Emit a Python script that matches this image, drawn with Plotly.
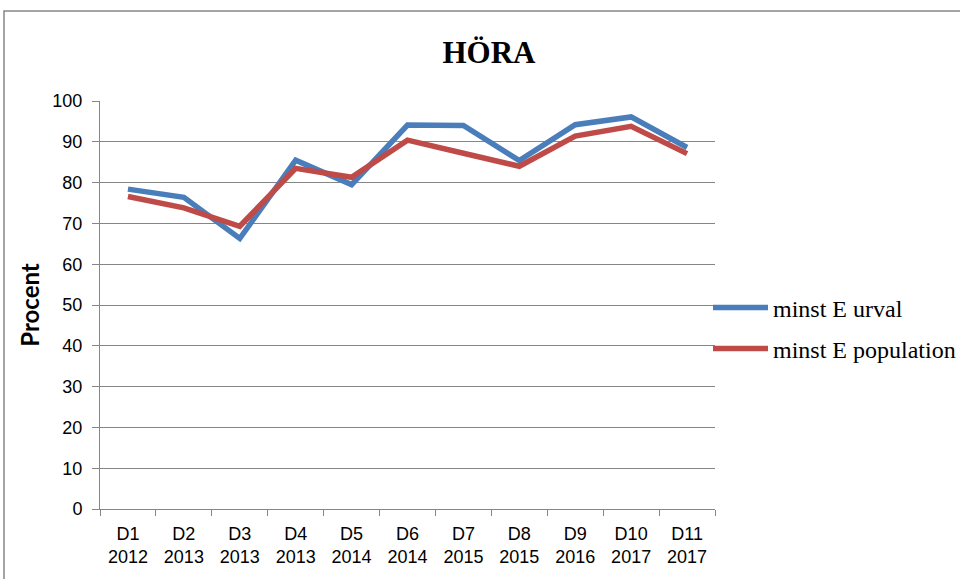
import plotly.graph_objects as go

categories = ["D1<br>2012", "D2<br>2013", "D3<br>2013", "D4<br>2013", "D5<br>2014", "D6<br>2014",
              "D7<br>2015", "D8<br>2015", "D9<br>2016", "D10<br>2017", "D11<br>2017"]
urval = [78.4, 76.4, 66.3, 85.5, 79.5, 94.1, 94.0, 85.4, 94.2, 96.1, 88.6]
population = [76.6, 73.8, 69.3, 83.5, 81.3, 90.4, 87.2, 84.0, 91.4, 93.8, 87.1]
yticks = [0, 10, 20, 30, 40, 50, 60, 70, 80, 90, 100]

W, H = 960, 579
L, R, T, B = 100, 715, 101, 509

fig = go.Figure()
fig.add_trace(go.Scatter(x=categories, y=urval, mode="lines", name="minst E urval",
                         line=dict(color="#4A7EBB", width=5.5), legend="legend"))
fig.add_trace(go.Scatter(x=categories, y=population, mode="lines", name="minst E population",
                         line=dict(color="#BE4B48", width=5.5), legend="legend2"))

def px(x):
    return (x - L) / (R - L)

def py(y):
    return (B - y) / (B - T)

legfont = dict(family="Liberation Serif", size=24, color="black")

fig.update_layout(
    width=W, height=H,
    margin=dict(l=L, r=W - R, t=T, b=H - B, autoexpand=False),
    paper_bgcolor="white", plot_bgcolor="white",
    title=dict(text="<b>HÖRA</b>", x=489 / W, xanchor="center",
               y=1 - 52 / H, yanchor="middle",
               font=dict(family="Liberation Serif", size=31, color="black")),
    showlegend=True,
    legend=dict(x=px(708), xanchor="left", y=py(308), yanchor="middle",
                font=legfont, bgcolor="rgba(0,0,0,0)", itemwidth=55),
    legend2=dict(x=px(708), xanchor="left", y=py(349), yanchor="middle",
                 font=legfont, bgcolor="rgba(0,0,0,0)", itemwidth=55),
    xaxis=dict(type="category", showgrid=False, showline=True, linecolor="#868686", linewidth=1,
               ticks="outside", tickson="boundaries", ticklen=6, tickcolor="#868686",
               ticklabelstandoff=8,
               tickfont=dict(family="Liberation Sans", size=18, color="black"),
               range=[-0.5, 10.5], zeroline=False),
    yaxis=dict(range=[0, 100], tickvals=yticks, showgrid=True, gridcolor="#868686", gridwidth=1,
               showline=True, linecolor="#868686", linewidth=1, ticks="outside", ticklen=7,
               tickcolor="#868686", zeroline=False, ticklabelstandoff=6,
               tickfont=dict(family="Liberation Sans", size=18, color="black"),
               title=dict(text="<b>Procent</b>", standoff=5,
                          font=dict(family="Lato", size=24, color="black"))),
    shapes=[dict(type="rect", xref="paper", yref="paper",
                 x0=px(4), x1=px(975), y0=py(595), y1=py(11),
                 line=dict(color="#868686", width=1.5), fillcolor="rgba(0,0,0,0)", layer="below")],
)

fig.write_html("out.html", config={"displayModeBar": False},
               post_script="document.body.style.margin='0';")
